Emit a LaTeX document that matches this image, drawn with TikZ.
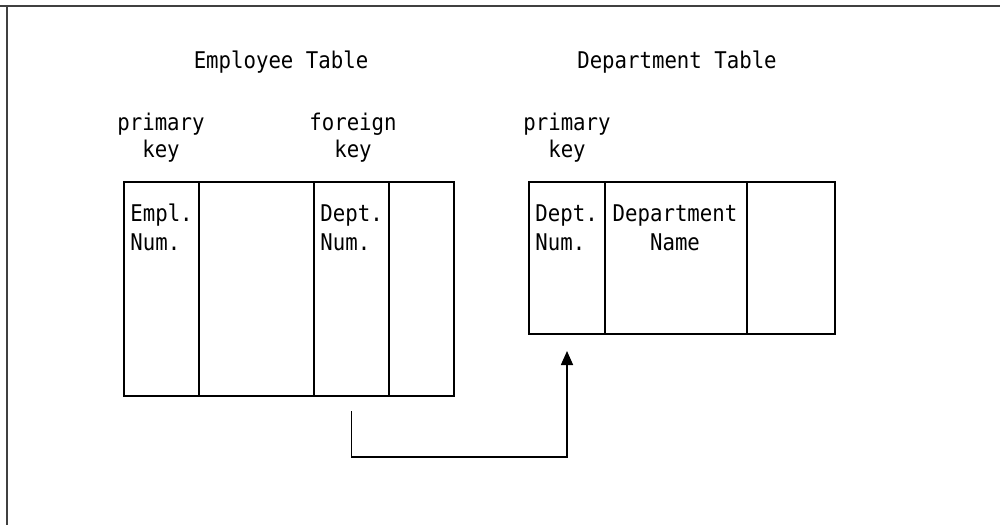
\documentclass[tikz,border=0pt]{standalone}
\usepackage{fontspec}
\newfontfamily\ibm[FakeStretch=0.9]{DejaVu Sans Mono}
\usetikzlibrary{arrows.meta}
\tikzset{
  cell/.style={draw, line width=1pt, inner sep=0pt, outer sep=0pt},
  lbl/.style={font=\ibm\fontsize{11.5pt}{13.5pt}\selectfont, inner sep=0pt, align=center},
  celltxt/.style={font=\ibm\fontsize{11.5pt}{14.5pt}\selectfont, inner sep=0pt, align=left},
  conn/.style={line width=0.8pt, -{Triangle[length=7pt,width=6pt]}},
  frame/.style={line width=1.1pt, black!75}
}
\begin{document}
\begin{tikzpicture}[x=0.5pt,y=-0.5pt]
\useasboundingbox (0,0) rectangle (1000,525);
% frame
\coordinate (ftl) at (7,6);
\coordinate (ftr) at (1000,6);
\coordinate (fbl) at (7,525);
\coordinate (ftl0) at (0,6);
\draw[frame] (ftl0) -- (ftr);
\draw[frame] (ftl) -- (fbl);
% titles
\node[lbl, anchor=base] (t1) at (281,68) {Employee Table};
\node[lbl, anchor=base] (t2) at (677,68) {Department Table};
% key labels (base = baseline of last line)
\node[lbl, anchor=base] (k1) at (161,157) {primary\\key};
\node[lbl, anchor=base] (k2) at (353,157) {foreign\\key};
\node[lbl, anchor=base] (k3) at (567,157) {primary\\key};
% employee table
\node[cell, minimum width=37.5pt, minimum height=107pt] (e1) at (161.5,289) {};
\node[cell, minimum width=57.5pt, minimum height=107pt] (e2) at (256.5,289) {};
\node[cell, minimum width=37.5pt, minimum height=107pt] (e3) at (351.5,289) {};
\node[cell, minimum width=32.5pt, minimum height=107pt] (e4) at (421.5,289) {};
% department table
\node[cell, minimum width=38pt, minimum height=76pt] (d1) at (567,258) {};
\node[cell, minimum width=71pt, minimum height=76pt] (d2) at (676,258) {};
\node[cell, minimum width=44pt, minimum height=76pt] (d3) at (791,258) {};
% cell texts
\node[celltxt, anchor=base west] (e1t) at (130,250) {Empl.\\Num.};
\node[celltxt, anchor=base west] (e3t) at (320,250) {Dept.\\Num.};
\node[celltxt, anchor=base west] (d1t) at (535,250) {Dept.\\Num.};
\node[celltxt, anchor=base, align=center] (d2t) at (675,250) {Department\\Name};
% connector
\coordinate (src) at ([yshift=-7.5pt]e3.south);
\coordinate (dst) at ([yshift=-8.5pt]d1.south);
\coordinate (bend) at ([yshift=-30.5pt]e3.south);
\draw[conn] (src) -- (bend) -| (dst);
\end{tikzpicture}
\end{document}
